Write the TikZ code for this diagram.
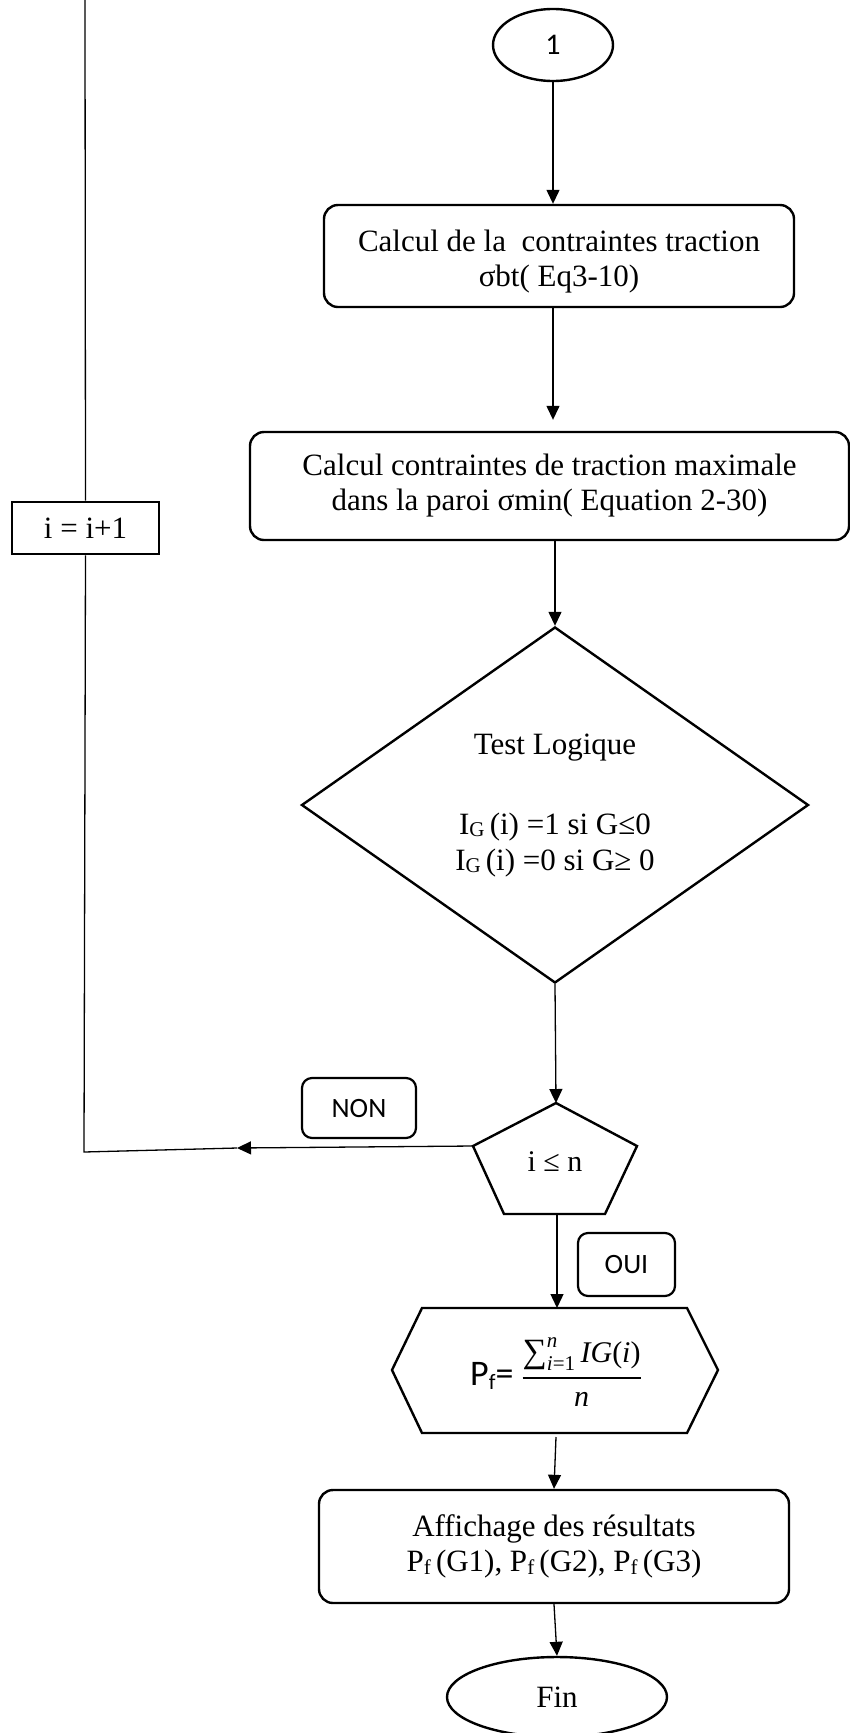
\documentclass[tikz,border=0pt]{standalone}
\usepackage{fix-cm}
\usepackage{amsmath}
\usepackage{fontspec}
\setmainfont{Liberation Serif}
\newfontfamily\carlito{Carlito}
\usetikzlibrary{shapes.geometric,arrows.meta}
\begin{document}
\begin{tikzpicture}[x=1pt,y=-1pt,
  shapeline/.style={draw=black, line width=2.4pt},
  rbox/.style={shapeline, rounded corners=14pt, inner sep=0pt, align=center, font=\fontsize{31}{35}\selectfont},
  lbl/.style={shapeline, line width=2.2pt, rounded corners=10pt, inner sep=0pt, font=\carlito\fontsize{28}{30}\selectfont},
  conn/.style={draw=black, line width=1.3pt},
  arr/.style={conn, -{Triangle[length=14pt,width=13pt]}},
  txt/.style={font=\fontsize{31}{35}\selectfont, inner sep=0pt, align=center}
]
\useasboundingbox (0,0) rectangle (850,1733);
\fill[white] (0,0) rectangle (850,1733);

% nodes
\node[shapeline, ellipse, minimum width=120pt, minimum height=72pt, inner sep=0pt, font=\carlito\fontsize{30}{30}\selectfont] (one) at (553,45) {1};

\node[rbox, minimum width=470pt, minimum height=102pt] (box1) at (559,256) {};
\node[txt] (box1t) at (559,262) {Calcul de la~~contraintes traction\\σbt( Eq3-10)};

\node[rbox, minimum width=599pt, minimum height=108pt] (box2) at (549.5,486) {Calcul contraintes de traction maximale\\dans la paroi σmin( Equation 2-30)};

\node[shapeline, line width=2.8pt, minimum width=147pt, minimum height=52pt, inner sep=0pt, font=\fontsize{31}{35}\selectfont] (ibox) at (85.5,528) {i = i+1};

\node[shapeline, diamond, minimum width=507pt, minimum height=356pt, inner sep=0pt] (dia) at (555,805) {};
\node[txt] (tl) at (555,748) {Test Logique};
\node[txt] (ig1) at (555,827) {I\raisebox{-2pt}{\fontsize{21}{21}\selectfont G}\,(i) =1 si G≤0};
\node[txt] (ig2) at (555,863) {I\raisebox{-2pt}{\fontsize{21}{21}\selectfont G}\,(i) =0 si G≥ 0};

% pentagon
\coordinate (pt) at (556,1103);
\coordinate (pl) at (473,1146);
\coordinate (pr) at (637,1146);
\coordinate (pbr) at (605,1214);
\coordinate (pbl) at (504,1214);
\draw[shapeline, line join=miter] (pt) -- (pr) -- (pbr) -- (pbl) -- (pl) -- cycle;
\node[txt, font=\fontsize{30}{34}\selectfont] (ilen) at (555,1162) {i ≤ n};

\node[lbl, minimum width=114pt, minimum height=60pt] (non) at (359,1108) {NON};
\node[lbl, minimum width=97pt, minimum height=63pt] (oui) at (626.5,1264.5) {OUI};

% hexagon
\coordinate (h1) at (422,1308);
\coordinate (h2) at (687,1308);
\coordinate (h3) at (718,1370);
\coordinate (h4) at (687,1433);
\coordinate (h5) at (422,1433);
\coordinate (h6) at (392,1370);
\draw[shapeline, line join=miter] (h1) -- (h2) -- (h3) -- (h4) -- (h5) -- (h6) -- cycle;
\node[inner sep=0pt] (pf) at (556,1372) {{\carlito\fontsize{36}{38}\selectfont P\raisebox{-4pt}{\fontsize{22}{22}\selectfont f}=}\hspace{8pt}{\fontsize{30}{34}\selectfont$\genfrac{}{}{2.2pt}{0}{\text{\fontsize{34}{34}\selectfont ∑}_{\textit{i}\text{=1}}^{\textit{n}}\,\textit{IG}\text{(}\textit{i}\text{)}}{\textit{n}}$}};

\node[rbox, minimum width=470pt, minimum height=113pt] (box3) at (554,1546.5) {Affichage des résultats\\P\raisebox{-3pt}{\fontsize{21}{21}\selectfont f}\,(G1), P\raisebox{-3pt}{\fontsize{21}{21}\selectfont f}\,(G2), P\raisebox{-3pt}{\fontsize{21}{21}\selectfont f}\,(G3)};

\node[shapeline, ellipse, minimum width=220pt, minimum height=80pt, inner sep=0pt, font=\fontsize{31}{35}\selectfont] (fin) at (557,1697) {Fin};

% connector coordinates
\coordinate (ltop) at (85,0);
\coordinate (ntip) at (237,1148);
\coordinate (corner) at (84,1152);
\coordinate (pbot) at (557,1214);
\coordinate (htop) at (557,1308);
\coordinate (hbot) at (556,1437);

% connectors
\draw[arr] (one.south) -- (one.south |- box1.north);
\draw[arr, shorten >=11pt] (one.south |- box1.south) -- (one.south |- box2.north);
\draw[arr] (dia.north |- box2.south) -- (dia.north);
\draw[arr] (dia.south) -- (pt);
\draw[arr] (pl) -- (ntip);
\draw[conn] (ntip) -- (corner) -- (ibox.south);
\draw[conn] (ltop) -- (ibox.north);
\draw[arr] (pbot) -- (htop);
\draw[arr] (hbot) -- (box3.north);
\draw[arr] (box3.south) -- (fin.north);
\end{tikzpicture}
\end{document}
